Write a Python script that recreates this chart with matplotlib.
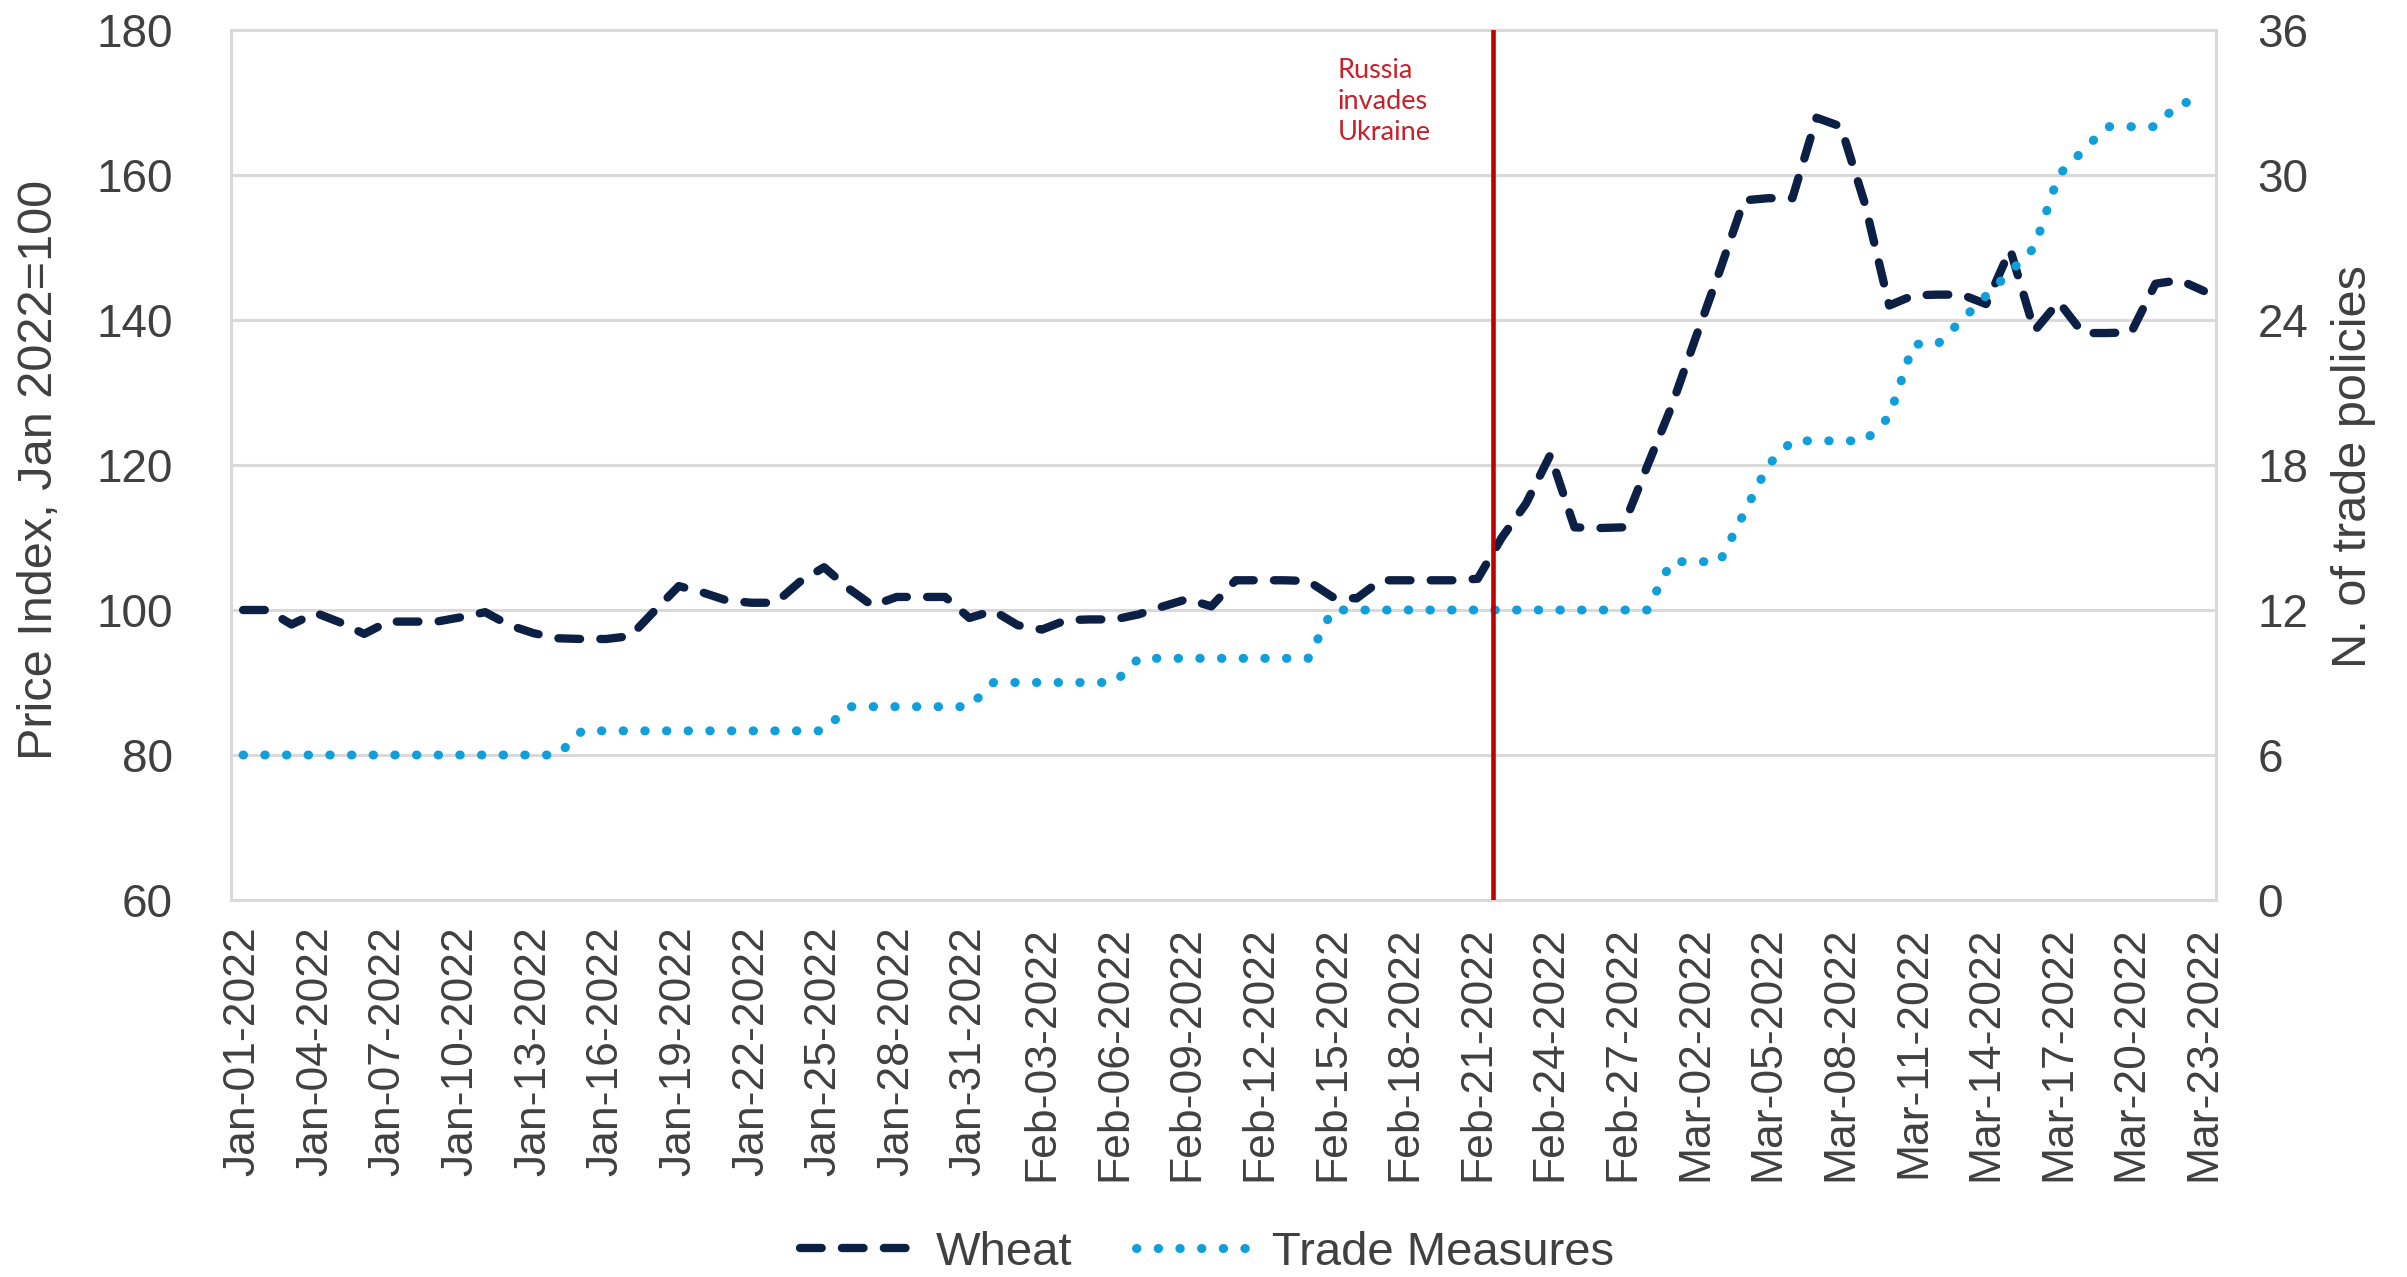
import matplotlib
matplotlib.use("Agg")
import matplotlib.pyplot as plt
import numpy as np

# ---------------- data ----------------
tick_labels = ["Jan-01-2022", "Jan-04-2022", "Jan-07-2022", "Jan-10-2022", "Jan-13-2022",
               "Jan-16-2022", "Jan-19-2022", "Jan-22-2022", "Jan-25-2022", "Jan-28-2022",
               "Jan-31-2022", "Feb-03-2022", "Feb-06-2022", "Feb-09-2022", "Feb-12-2022",
               "Feb-15-2022", "Feb-18-2022", "Feb-21-2022", "Feb-24-2022", "Feb-27-2022",
               "Mar-02-2022", "Mar-05-2022", "Mar-08-2022", "Mar-11-2022", "Mar-14-2022",
               "Mar-17-2022", "Mar-20-2022", "Mar-23-2022"]

# daily wheat price index (Jan 1 .. Mar 23, 2022)
wheat = [100.0, 100.0, 98.0, 99.6, 98.3, 96.7, 98.4, 98.4, 98.4, 99.0,
         99.7, 97.9, 96.8, 96.1, 96.0, 96.0, 96.4, 99.9, 103.3, 102.4,
         101.3, 101.0, 101.0, 103.9, 105.9, 103.0, 100.6, 101.8, 101.8, 101.8,
         98.9, 99.9, 97.9, 97.3, 98.6, 98.7, 98.7, 99.4, 100.5, 101.5,
         100.5, 104.1, 104.1, 104.1, 104.0, 101.8, 101.6, 104.1, 104.1, 104.1,
         104.1, 104.3, 110.0, 114.7, 121.4, 111.4, 111.3, 111.4, 119.8, 128.0,
         137.5, 146.8, 156.5, 156.8, 156.8, 167.9, 166.7, 156.0, 142.0, 143.4,
         143.5, 143.5, 142.2, 149.7, 138.5, 142.5, 138.2, 138.2, 138.3, 145.0,
         145.5, 144.0]

# daily cumulative number of trade policies
trade = [6, 6, 6, 6, 6, 6, 6, 6, 6, 6,
         6, 6, 6, 6, 7, 7, 7, 7, 7, 7,
         7, 7, 7, 7, 7, 8, 8, 8, 8, 8,
         8, 9, 9, 9, 9, 9, 9, 10, 10, 10,
         10, 10, 10, 10, 10, 12, 12, 12, 12, 12,
         12, 12, 12, 12, 12, 12, 12, 12, 12, 14,
         14, 14, 16, 18, 19, 19, 19, 19, 20, 23,
         23, 24, 25, 26, 27, 30, 31, 32, 32, 32,
         33, 33]

series_names = ["Wheat", "Trade Measures"]
event_label = "Russia\ninvades\nUkraine"
event_pos = 51.65          # position of the invasion marker (day index)
event_text_pos = 45.2

# ---------------- style ----------------
plt.rcParams['font.family'] = ['Liberation Sans', 'DejaVu Sans']
navy = '#0C1F45'
blue = '#119FDB'
grid_c = '#D9D9D9'
txt_c = '#404040'
red = '#C00000'

W, H = 2407, 1277
fig = plt.figure(figsize=(W / 100, H / 100), dpi=100)
L, R, T, B = 231, 2216, 30, 900
ax = fig.add_axes([L / W, 1 - B / H, (R - L) / W, (B - T) / H])
ax2 = ax.twinx()

x = np.arange(len(wheat))
l1, = ax.plot(x, wheat, color=navy, lw=6, dashes=(2.6, 2.43),
              dash_capstyle='round', dash_joinstyle='round', label=series_names[0])
l2, = ax2.plot(x, trade, color=blue, lw=6.5, dashes=(0.05, 2.35),
               dash_capstyle='round', dash_joinstyle='round', label=series_names[1])

ax.set_xlim(-0.5, len(wheat) - 0.5)
ax.set_ylim(60, 180)
ax.set_yticks(range(60, 181, 20))
ax2.set_ylim(0, 36)
ax2.set_yticks(range(0, 37, 6))
ax.set_xticks(np.arange(0, len(wheat), 3))
ax.set_xticklabels(tick_labels, rotation=90)

ax.grid(axis='y', color=grid_c, lw=2.2)
ax.set_axisbelow(True)
for a in (ax, ax2):
    for s in a.spines.values():
        s.set_color(grid_c)
        s.set_linewidth(2.2)
for s in ax.spines.values():
    s.set_visible(False)

ax.tick_params(axis='y', length=0, pad=42, labelsize=33, labelcolor=txt_c)
ax.tick_params(axis='x', length=0, pad=19, labelsize=32, labelcolor=txt_c)
ax2.tick_params(axis='y', length=0, pad=30, labelsize=33, labelcolor=txt_c)

ax2.axvline(event_pos, color=red, lw=3.3, zorder=5)
ax2.text(event_text_pos, 0.968, event_label, transform=ax2.get_xaxis_transform(),
         ha='left', va='top', fontsize=19.5, family=['Lato', 'DejaVu Sans'],
         color='#C8202A', linespacing=1.3)

fig.text(40 / W, 1 - 470 / H, 'Price Index, Jan 2022=100', rotation=90,
         ha='center', va='center', fontsize=35, color=txt_c)
fig.text(2353 / W, 1 - 467 / H, 'N. of trade policies', rotation=90,
         ha='center', va='center', fontsize=35, color=txt_c)

fig.legend([l1, l2], series_names, loc='center', bbox_to_anchor=(1207 / W, 1 - 1253 / H),
           ncol=2, frameon=False, fontsize=34, handlelength=2.6, handletextpad=0.28,
           columnspacing=1.36, borderpad=0, labelcolor=txt_c)

fig.savefig('out.png', dpi=100)
